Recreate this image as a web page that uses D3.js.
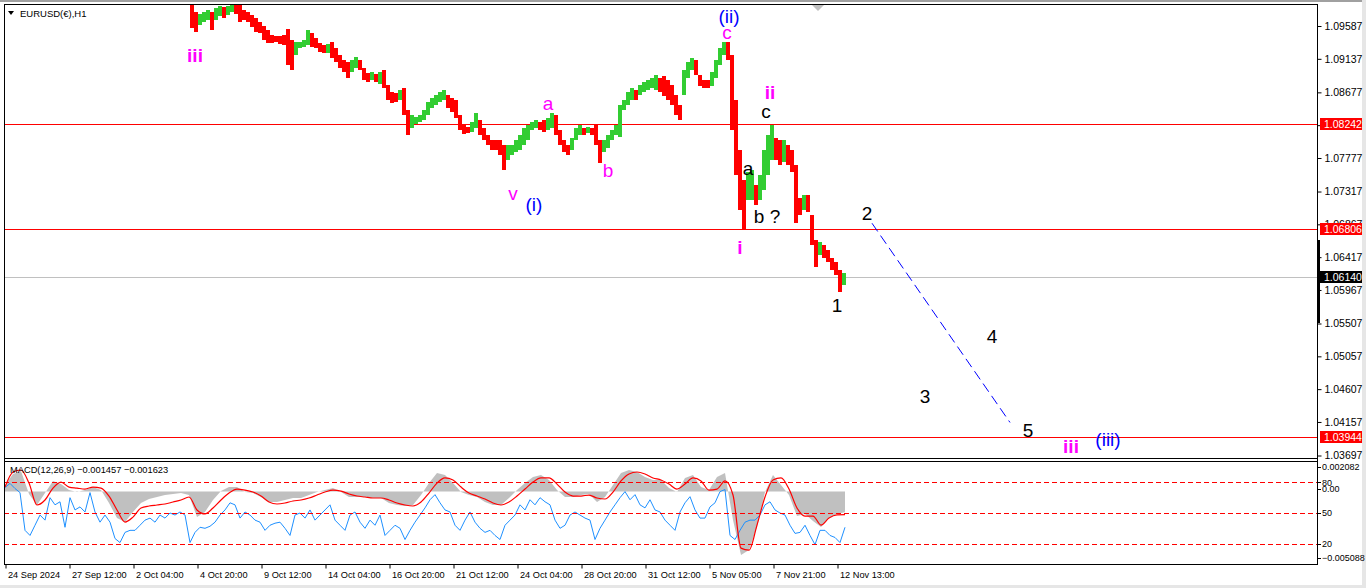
<!DOCTYPE html>
<html>
<head>
<meta charset="utf-8">
<script src="https://cdn.jsdelivr.net/npm/d3@7"></script>
<style>
  body { margin: 0; background: #fff; }
  svg { display: block; }
  text { font-family: "Liberation Sans", Arial, sans-serif; }
</style>
</head>
<body>
<svg id="chart" width="1366" height="588"></svg>
<script>
// ---------- data ----------
// time axis: hours counted from the first H1 bar (24 Sep 2024)
const timeTickHours = [0, 64, 128, 192, 256, 320, 384, 448, 512, 576, 640, 704, 768, 832];
const timeLabels = ["24 Sep 2024", "27 Sep 12:00", "2 Oct 04:00", "4 Oct 20:00", "9 Oct 12:00",
  "14 Oct 04:00", "16 Oct 20:00", "21 Oct 12:00", "24 Oct 04:00", "28 Oct 20:00",
  "31 Oct 12:00", "5 Nov 05:00", "7 Nov 21:00", "12 Nov 13:00"];

const priceTicks = [1.09587, 1.09137, 1.08677, 1.08227, 1.07777, 1.07317, 1.06867,
  1.06417, 1.05967, 1.05507, 1.05057, 1.04607, 1.04157, 1.03697];
const levelPrices = [1.08242, 1.06806, 1.03944];
const bidPrice = 1.06140;

// EURUSD price bars, each spanning 4 hours (high / low)
const firstBarHour = 185;
const hoursPerBar = 4;
const barHigh = [
  1.09875,1.09779,1.09752,1.09779,1.09807,1.09779,1.09834,1.09862,1.09848,1.09862,
  1.09875,1.09875,1.09875,1.09807,1.09779,1.09738,1.09697,1.09642,1.09587,1.09532,
  1.09463,1.09450,1.09450,1.09463,1.09546,1.09395,1.09367,1.09367,1.09395,1.09532,
  1.09491,1.09422,1.09354,1.09326,1.09340,1.09367,1.09285,1.09189,1.09120,1.09093,
  1.09120,1.09161,1.09120,1.09010,1.08942,1.08956,1.08928,1.08956,1.08983,1.08777,
  1.08681,1.08667,1.08708,1.08736,1.08434,1.08365,1.08338,1.08365,1.08434,1.08544,
  1.08599,1.08640,1.08681,1.08708,1.08640,1.08599,1.08571,1.08365,1.08228,1.08201,
  1.08269,1.08393,1.08296,1.08187,1.08091,1.08022,1.08022,1.08022,1.07953,1.07953,
  1.07953,1.08022,1.08091,1.08187,1.08228,1.08269,1.08296,1.08269,1.08296,1.08324,
  1.08393,1.08365,1.08159,1.08022,1.07953,1.08050,1.08187,1.08228,1.08187,1.08201,
  1.08187,1.08228,1.08022,1.08022,1.08091,1.08159,1.08228,1.08502,1.08571,1.08681,
  1.08736,1.08708,1.08777,1.08818,1.08846,1.08873,1.08914,1.08873,1.08901,1.08846,
  1.08777,1.08640,1.08502,1.08983,1.09093,1.09148,1.09120,1.08914,1.08846,1.08846,
  1.08956,1.09120,1.09285,1.09367,1.09367,1.09189,1.08571,1.07885,1.07473,1.07582,
  1.07610,1.07404,1.07541,1.07885,1.08091,1.08228,1.08050,1.08022,1.08022,1.07953,
  1.07885,1.07679,1.07226,1.07267,1.07267,1.06992,1.06649,1.06622,1.06580,1.06512,
  1.06402,1.06347,1.06237,1.06196
];
const barLow = [
  1.09560,1.09505,1.09601,1.09642,1.09669,1.09532,1.09669,1.09724,1.09697,1.09738,
  1.09779,1.09752,1.09642,1.09669,1.09642,1.09573,1.09505,1.09491,1.09395,1.09354,
  1.09354,1.09367,1.09340,1.09326,1.09052,1.08983,1.09189,1.09285,1.09299,1.09326,
  1.09299,1.09285,1.09230,1.09216,1.09216,1.09148,1.09093,1.09010,1.08956,1.08873,
  1.08956,1.09010,1.08983,1.08846,1.08818,1.08846,1.08818,1.08791,1.08736,1.08571,
  1.08530,1.08544,1.08571,1.08365,1.08091,1.08187,1.08242,1.08269,1.08296,1.08365,
  1.08461,1.08502,1.08544,1.08571,1.08461,1.08406,1.08324,1.08159,1.08104,1.08118,
  1.08132,1.08187,1.08091,1.08022,1.07953,1.07885,1.07885,1.07816,1.07610,1.07747,
  1.07816,1.07857,1.07885,1.07953,1.08022,1.08159,1.08187,1.08159,1.08132,1.08159,
  1.08187,1.08091,1.07953,1.07857,1.07816,1.07885,1.08022,1.08091,1.08091,1.08118,
  1.08091,1.07953,1.07706,1.07857,1.07912,1.08022,1.08091,1.08063,1.08434,1.08502,
  1.08571,1.08571,1.08640,1.08681,1.08708,1.08736,1.08708,1.08681,1.08626,1.08571,
  1.08502,1.08365,1.08296,1.08640,1.08873,1.08983,1.08914,1.08763,1.08736,1.08736,
  1.08763,1.08873,1.09052,1.09189,1.09120,1.08159,1.07541,1.07061,1.06800,1.07198,
  1.07198,1.07129,1.07198,1.07335,1.07541,1.07747,1.07747,1.07679,1.07720,1.07679,
  1.07582,1.06882,1.06992,1.07061,1.07033,1.06580,1.06278,1.06443,1.06402,1.06347,
  1.06237,1.06168,1.05935,1.06031
];

// MACD(12,26,9): main (histogram) and signal, one value every 8 hours
const macdStep = 8;
const macdMain = [
  0.00046,0.00124,0.00145,-0.00017,-0.00094,-0.00010,0.00075,0.00053,0.00011,-0.00003,
  0.00011,0.00032,0.00011,-0.00080,-0.00186,-0.00214,-0.00143,-0.00080,-0.00052,-0.00038,
  -0.00024,-0.00017,-0.00010,-0.00024,-0.00179,-0.00143,-0.00059,0.00004,0.00032,0.00032,
  -0.00003,-0.00010,-0.00038,-0.00073,-0.00073,-0.00059,-0.00045,-0.00045,-0.00024,-0.00003,
  0.00011,0.00025,-0.00003,-0.00038,-0.00038,-0.00038,-0.00045,-0.00045,-0.00080,-0.00094,
  -0.00101,-0.00094,-0.00024,0.00060,0.00131,0.00117,0.00060,-0.00003,-0.00024,-0.00038,
  -0.00073,-0.00094,-0.00094,-0.00045,0.00011,0.00060,0.00103,0.00117,0.00082,0.00011,
  -0.00038,-0.00038,-0.00024,-0.00017,-0.00073,-0.00038,0.00046,0.00131,0.00152,0.00138,
  0.00103,0.00082,0.00082,0.00025,-0.00003,0.00096,0.00117,0.00032,0.00011,0.00103,
  0.00131,-0.00200,-0.00446,-0.00411,-0.00249,-0.00003,0.00117,0.00046,-0.00024,-0.00172,
  -0.00157,-0.00207,-0.00249,-0.00186,-0.00157,-0.001457
];
const macdSignal = [
  0.00032,0.00138,0.00152,0.00060,-0.00094,-0.00059,0.00025,0.00067,0.00032,0.00025,
  0.00018,0.00032,0.00025,-0.00031,-0.00129,-0.00214,-0.00179,-0.00115,-0.00101,-0.00094,
  -0.00087,-0.00073,-0.00059,-0.00038,-0.00129,-0.00157,-0.00115,-0.00059,-0.00010,0.00018,
  0.00011,-0.00003,-0.00031,-0.00073,-0.00087,-0.00080,-0.00066,-0.00059,-0.00045,-0.00024,
  -0.00003,0.00011,0.00004,-0.00017,-0.00031,-0.00038,-0.00045,-0.00045,-0.00059,-0.00080,
  -0.00094,-0.00101,-0.00073,-0.00010,0.00060,0.00096,0.00082,0.00032,-0.00010,-0.00031,
  -0.00052,-0.00080,-0.00094,-0.00073,-0.00031,0.00018,0.00067,0.00096,0.00096,0.00053,
  -0.00003,-0.00031,-0.00031,-0.00024,-0.00045,-0.00052,-0.00003,0.00075,0.00124,0.00138,
  0.00124,0.00096,0.00082,0.00053,0.00018,0.00053,0.00096,0.00075,0.00011,0.00018,
  0.00075,-0.00024,-0.00397,-0.00411,-0.00235,-0.00038,0.00082,0.00096,0.00018,-0.00115,
  -0.00172,-0.00172,-0.00235,-0.00186,-0.00164,-0.001623
];
const macdRange = [-0.005088, 0.002082];

// oscillator line drawn in the same window (0..100), one value every 5 hours
const oscStep = 5;
const oscValues = [
  75,79,74,70,33,28,38,48,43,65, 58,61,36,65,53,56,51,70,51,41,
  48,41,25,21,31,33,33,38,43,45, 41,48,45,50,48,51,48,21,31,36,
  35,37,41,48,53,60,58,45,51,48, 43,41,33,38,40,41,35,28,48,50,
  45,53,43,48,53,58,43,38,33,48, 51,41,35,43,38,48,28,33,38,35,
  24,33,41,48,55,63,68,60,53,51, 38,33,43,51,41,35,31,33,28,24,
  38,43,48,58,53,63,58,65,61,58, 43,35,38,48,51,48,45,43,24,35,
  43,51,58,65,71,63,68,58,55,63, 53,51,43,38,33,51,60,66,53,45,
  45,56,60,71,73,28,24,33,41,43, 43,48,58,61,53,50,48,38,30,31,
  38,28,19,33,33,28,26,21,36
];
const oscLevels = [80, 50, 20];

// Elliott wave annotations anchored at (hour, price)
const waveLabels = [
  { t: "iii",   h: 190,  p: 1.09093, deg: "minor" },
  { t: "v",     h: 508,  p: 1.07198, deg: "minor" },
  { t: "(i)",   h: 529,  p: 1.07047, deg: "intermediate" },
  { t: "a",     h: 543,  p: 1.08434, deg: "minor" },
  { t: "b",     h: 603,  p: 1.07514, deg: "minor" },
  { t: "(ii)",  h: 724,  p: 1.09628, deg: "intermediate" },
  { t: "c",     h: 722,  p: 1.09408, deg: "minor" },
  { t: "ii",    h: 765,  p: 1.08585, deg: "minor" },
  { t: "c",     h: 761,  p: 1.08324, deg: "minute" },
  { t: "a",     h: 743,  p: 1.07541, deg: "minute" },
  { t: "b ?",   h: 762,  p: 1.06882, deg: "minute" },
  { t: "i",     h: 735,  p: 1.06457, deg: "minor" },
  { t: "1",     h: 832,  p: 1.05660, deg: "minute" },
  { t: "2",     h: 862,  p: 1.06924, deg: "minute" },
  { t: "3",     h: 920,  p: 1.04411, deg: "minute" },
  { t: "4",     h: 987,  p: 1.05235, deg: "minute" },
  { t: "5",     h: 1023, p: 1.03944, deg: "minute" },
  { t: "iii",   h: 1066, p: 1.03738, deg: "minor" },
  { t: "(iii)", h: 1103, p: 1.03834, deg: "intermediate" }
];
const projectionHours = [867, 1005];
const projectionPrices = [1.06882, 1.04150];

// ---------- layout ----------
const svg = d3.select("#chart");
const L = 4, R = 1317, MT = 4, MB = 458, ST = 461, SB = 564;
const GREEN = "#32cd32", RED = "#ff0000";
const degColor = { minor: "#ff00ff", intermediate: "#0000ff", minute: "#000000" };

const x = d3.scaleLinear().domain([0, 1312]).range([5, 1317]);
const yP = d3.scaleLinear().domain([1.03697, 1.09587]).range([455.5, 26]);
const yM = d3.scaleLinear().domain(macdRange).range([SB, ST + 1]);
const yO = d3.scaleLinear().domain([0, 100]).range([SB, ST + 1]);

// window chrome
svg.append("rect").attr("width", 1366).attr("height", 588).attr("fill", "#ffffff");
svg.append("rect").attr("x", 0).attr("y", 0).attr("width", 1366).attr("height", 2).attr("fill", "#a0a0a0");
svg.append("rect").attr("x", 1362).attr("y", 0).attr("width", 4).attr("height", 588).attr("fill", "#e6e6e6");
svg.append("rect").attr("x", 0).attr("y", 585).attr("width", 1366).attr("height", 3).attr("fill", "#e6e6e6");

const defs = svg.append("defs");
defs.append("clipPath").attr("id", "clipMain").append("rect")
  .attr("x", L + 1).attr("y", MT + 1).attr("width", R - L - 1).attr("height", MB - MT - 1);
defs.append("clipPath").attr("id", "clipSub").append("rect")
  .attr("x", L + 1).attr("y", ST + 1).attr("width", R - L - 1).attr("height", SB - ST - 1);

// ---------- main price window ----------
const main = svg.append("g").attr("clip-path", "url(#clipMain)");

main.selectAll("line.level").data(levelPrices).join("line")
  .attr("x1", L).attr("x2", R)
  .attr("y1", d => Math.round(yP(d)) + 0.5).attr("y2", d => Math.round(yP(d)) + 0.5)
  .attr("stroke", RED).attr("stroke-width", 1);
main.append("line")
  .attr("x1", L).attr("x2", R)
  .attr("y1", Math.round(yP(bidPrice)) + 0.5).attr("y2", Math.round(yP(bidPrice)) + 0.5)
  .attr("stroke", "#c0c0c0").attr("stroke-width", 1);

const bars = barHigh.map((hi, i) => ({ h: firstBarHour + i * hoursPerBar, hi, lo: barLow[i] }));
bars.forEach((b, i) => {
  const mid = (b.hi + b.lo) / 2;
  const prev = i ? (bars[i - 1].hi + bars[i - 1].lo) / 2 : Infinity;
  b.up = mid > prev;
});
main.selectAll("rect.bar").data(bars).join("rect")
  .attr("class", "bar")
  .attr("shape-rendering", "crispEdges")
  .attr("x", d => x(d.h))
  .attr("width", d => x(d.h + hoursPerBar) - x(d.h))
  .attr("y", d => yP(d.hi))
  .attr("height", d => Math.max(1, yP(d.lo) - yP(d.hi)))
  .attr("fill", d => d.up ? GREEN : RED);

// projected path of wave 2 -> 5
main.append("line")
  .attr("x1", x(projectionHours[0])).attr("y1", yP(projectionPrices[0]))
  .attr("x2", x(projectionHours[1])).attr("y2", yP(projectionPrices[1]))
  .attr("stroke", "#0000ff").attr("stroke-width", 1).attr("stroke-dasharray", "10,5");

// wave labels
main.selectAll("text.wave").data(waveLabels).join("text")
  .attr("class", "wave")
  .attr("x", d => x(d.h)).attr("y", d => yP(d.p))
  .attr("text-anchor", "middle")
  .attr("font-size", 19)
  .attr("font-weight", d => d.deg === "minor" && /^i+$/.test(d.t) ? "bold" : "normal")
  .attr("fill", d => degColor[d.deg])
  .text(d => d.t);

// chart-shift marker
svg.append("path").attr("d", "M812,5 L824,5 L818,11 Z").attr("fill", "#c0c0c0");

// title
svg.append("path").attr("d", "M8,11 L14,11 L11,15 Z").attr("fill", "#000");
svg.append("text").attr("x", 20).attr("y", 17).attr("font-size", 9.5).attr("fill", "#000")
  .text("EURUSD(€),H1");

// ---------- price axis ----------
const priceAxis = d3.axisRight(yP).tickValues(priceTicks).tickFormat(d3.format(".5f")).tickSize(4).tickPadding(3);
const pa = svg.append("g").attr("transform", `translate(${R + 0.5},0)`).call(priceAxis);
pa.select(".domain").remove();
pa.selectAll("line").attr("stroke", "#000");
pa.selectAll("text").attr("font-size", 10.5).attr("fill", "#000")
  .attr("font-family", "'Liberation Sans', Arial, sans-serif");

function priceTag(p, bg) {
  const yy = Math.round(yP(p));
  svg.append("rect").attr("x", R + 3).attr("y", yy - 6).attr("width", 42).attr("height", 12).attr("fill", bg);
  svg.append("text").attr("x", R + 7).attr("y", yy).attr("dy", "0.35em")
    .attr("font-size", 10.5).attr("fill", "#fff").text(d3.format(".5f")(p));
}
levelPrices.forEach(p => priceTag(p, RED));
priceTag(bidPrice, "#000");

// ---------- MACD window ----------
const sub = svg.append("g").attr("clip-path", "url(#clipSub)");
sub.append("path").datum(macdMain)
  .attr("fill", "#c0c0c0")
  .attr("d", d3.area().x((d, i) => x(i * macdStep)).y0(yM(0)).y1(d => yM(d)));
sub.append("path").datum(oscValues)
  .attr("fill", "none").attr("stroke", "#1e90ff").attr("stroke-width", 1)
  .attr("d", d3.line().x((d, i) => x(i * oscStep)).y(d => yO(d)));
sub.append("path").datum(macdSignal)
  .attr("fill", "none").attr("stroke", RED).attr("stroke-width", 1.2)
  .attr("d", d3.line().curve(d3.curveMonotoneX).x((d, i) => x(i * macdStep)).y(d => yM(d)));
sub.selectAll("line.olevel").data(oscLevels).join("line")
  .attr("x1", L).attr("x2", R)
  .attr("y1", d => Math.round(yO(d)) + 0.5).attr("y2", d => Math.round(yO(d)) + 0.5)
  .attr("stroke", RED).attr("stroke-dasharray", "5,3");

const fmt6 = d3.format(".6f");
svg.append("text").attr("x", 10).attr("y", 473).attr("font-size", 9.3).attr("fill", "#000")
  .text(`MACD(12,26,9) ${fmt6(macdMain[macdMain.length - 1])} ${fmt6(macdSignal[macdSignal.length - 1])}`);

// MACD window scale labels
const subTicks = [
  { y: yM(macdRange[1]) + 5, label: fmt6(macdRange[1]) },
  { y: yO(80), label: "80" },
  { y: yM(0) - 3, label: "0.00" },
  { y: yO(50), label: "50" },
  { y: yO(20), label: "20" },
  { y: yM(macdRange[0]) - 6, label: fmt6(macdRange[0]) }
];
svg.selectAll("g.subtick").data(subTicks).join("g").attr("class", "subtick")
  .each(function (d) {
    const g = d3.select(this);
    g.append("line").attr("x1", R).attr("x2", R + 4)
      .attr("y1", Math.round(d.y) + 0.5).attr("y2", Math.round(d.y) + 0.5).attr("stroke", "#000");
    g.append("text").attr("x", R + 5).attr("y", d.y).attr("dy", "0.35em")
      .attr("font-size", 9).attr("fill", "#000").text(d.label);
  });

// ---------- time axis ----------
const timeAxis = d3.axisBottom(x).tickValues(timeTickHours).tickFormat((d, i) => timeLabels[i]).tickSize(4).tickPadding(3);
const ta = svg.append("g").attr("transform", `translate(0.5,${SB + 0.5})`).call(timeAxis);
ta.select(".domain").remove();
ta.selectAll("line").attr("stroke", "#000");
ta.selectAll("text").attr("text-anchor", "start").attr("dx", 2).attr("font-size", 9.2).attr("fill", "#000")
  .attr("font-family", "'Liberation Sans', Arial, sans-serif");

// ---------- frames ----------
const frame = svg.append("g").attr("stroke", "#000").attr("stroke-width", 1).attr("shape-rendering", "crispEdges");
frame.append("line").attr("x1", L).attr("x2", R + 1).attr("y1", MT + 0.5).attr("y2", MT + 0.5);
frame.append("line").attr("x1", L).attr("x2", R + 1).attr("y1", MB + 0.5).attr("y2", MB + 0.5);
frame.append("line").attr("x1", L).attr("x2", R + 1).attr("y1", ST + 0.5).attr("y2", ST + 0.5);
frame.append("line").attr("x1", L).attr("x2", R + 1).attr("y1", SB + 0.5).attr("y2", SB + 0.5);
frame.append("line").attr("x1", L + 0.5).attr("x2", L + 0.5).attr("y1", MT).attr("y2", SB + 1);
frame.append("line").attr("x1", R + 0.5).attr("x2", R + 0.5).attr("y1", MT).attr("y2", SB + 1);
// visible price range marker on the scale
svg.append("rect").attr("x", R).attr("y", 240).attr("width", 3).attr("height", 83).attr("fill", "#000");
</script>
</body>
</html>
